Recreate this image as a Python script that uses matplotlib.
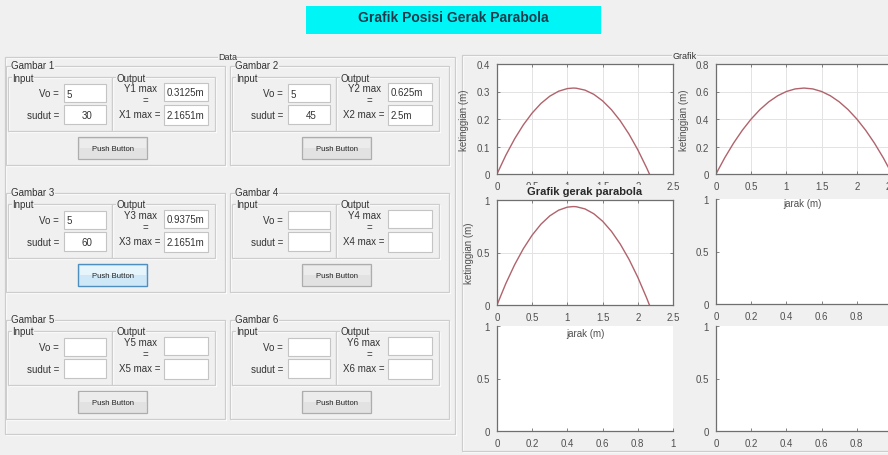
import matplotlib
matplotlib.use('Agg')
import matplotlib.pyplot as plt
from matplotlib.patches import Rectangle

plt.rcParams['font.family'] = ['Liberation Sans', 'DejaVu Sans']

# ---------------- data ----------------
title_text = "Grafik Posisi Gerak Parabola"
panel_names = ["Gambar 1", "Gambar 2", "Gambar 3", "Gambar 4", "Gambar 5", "Gambar 6"]
vo_values = ["5", "5", "5", "", "", ""]
sudut_values = ["30", "45", "60", "", "", ""]
ymax_values = ["0.3125m", "0.625m", "0.9375m", "", "", ""]
xmax_values = ["2.1651m", "2.5m", "2.1651m", "", "", ""]
button_text = "Push Button"

# trajectory (jarak, ketinggian)
x30 = [0, 0.125, 0.25, 0.375, 0.5, 0.625, 0.75, 0.875, 1.0, 1.0825, 1.125, 1.25,
       1.375, 1.5, 1.625, 1.75, 1.875, 2.0, 2.125, 2.1651]
y30 = [0, 0.068, 0.1277, 0.179, 0.222, 0.2567, 0.283, 0.301, 0.3107, 0.3125, 0.312,
       0.305, 0.2897, 0.266, 0.234, 0.1937, 0.145, 0.088, 0.0227, 0]
x45 = [0, 0.125, 0.25, 0.375, 0.5, 0.625, 0.75, 0.875, 1.0, 1.125, 1.25, 1.375,
       1.5, 1.625, 1.75, 1.875, 2.0, 2.125, 2.25, 2.375, 2.5]
y45 = [0, 0.1188, 0.225, 0.3188, 0.4, 0.4688, 0.525, 0.5688, 0.6, 0.6188, 0.625,
       0.6188, 0.6, 0.5688, 0.525, 0.4688, 0.4, 0.3188, 0.225, 0.1188, 0]
x60 = [0, 0.125, 0.25, 0.375, 0.5, 0.625, 0.75, 0.875, 1.0, 1.0825, 1.125, 1.25,
       1.375, 1.5, 1.625, 1.75, 1.875, 2.0, 2.125, 2.1651]
y60 = [0, 0.204, 0.383, 0.537, 0.666, 0.77, 0.849, 0.903, 0.9321, 0.9375, 0.9361,
       0.9151, 0.8691, 0.7981, 0.7021, 0.5811, 0.4351, 0.2641, 0.0681, 0]

ticks_25 = [0, 0.5, 1, 1.5, 2, 2.5]
ticks_25_labels = ["0", "0.5", "1", "1.5", "2", "2.5"]
ticks_1 = [0, 0.2, 0.4, 0.6, 0.8, 1]
ticks_1_labels = ["0", "0.2", "0.4", "0.6", "0.8", "1"]
yticks_04 = [0, 0.1, 0.2, 0.3, 0.4]
yticks_04_labels = ["0", "0.1", "0.2", "0.3", "0.4"]
yticks_08 = [0, 0.2, 0.4, 0.6, 0.8]
yticks_08_labels = ["0", "0.2", "0.4", "0.6", "0.8"]
yticks_1 = [0, 0.5, 1]
yticks_1_labels = ["0", "0.5", "1"]
xlabel_text = "jarak (m)"
ylabel_text = "ketinggian (m)"
plot_title = "Grafik gerak parabola"

# ---------------- figure ----------------
W, H = 888, 456
BG = '#f0f0f0'
fig = plt.figure(figsize=(W / 100, H / 100), dpi=100, facecolor=BG)

gui = fig.add_axes([0, 0, 1, 1])
gui.set_xlim(0, W)
gui.set_ylim(H, 0)
gui.axis('off')
gui.set_zorder(-10)

GUI_FS = 7
TXT = '#333333'


def panel(l, t, r, b):
    gui.add_patch(Rectangle((l + 1, t + 1), r - l, b - t, fill=False, ec='white', lw=0.9))
    gui.add_patch(Rectangle((l, t), r - l, b - t, fill=False, ec='#cdcdcd', lw=0.9))


def label(x, y, s, ha='left', fs=GUI_FS, **kw):
    gui.text(x, y, s, ha=ha, va='center', fontsize=fs, color=TXT,
             bbox=dict(fc=BG, ec='none', pad=0.3), **kw)


def edit(l, t, r, b, s='', align='left'):
    gui.add_patch(Rectangle((l, t), r - l, b - t, fc='white', ec='#c4c4c4', lw=0.8))
    if s:
        if align == 'left':
            gui.text(l + 2.5, (t + b) / 2 + 0.5, s, ha='left', va='center', fontsize=GUI_FS, color=TXT)
        else:
            gui.text((l + r) / 2 + 2, (t + b) / 2 + 0.5, s, ha='center', va='center', fontsize=GUI_FS, color=TXT)


def button(l, t, r, b, active=False):
    if active:
        gui.add_patch(Rectangle((l, t), r - l, b - t, fc='#cfe8f8', ec='#4f8fc0', lw=1.0))
        gui.add_patch(Rectangle((l + 1.5, t + 1.5), r - l - 3, (b - t) / 2 - 1.5, fc='#e6f4fc', ec='none'))
    else:
        gui.add_patch(Rectangle((l, t), r - l, b - t, fc='#e2e2e2', ec='#adadad', lw=0.9))
        gui.add_patch(Rectangle((l + 1.5, t + 1.5), r - l - 3, (b - t) / 2 - 1.5, fc='#ececec', ec='none'))
    gui.text((l + r) / 2, (t + b) / 2 + 0.5, button_text, ha='center', va='center', fontsize=5.5, color='#222222')


# title box
gui.add_patch(Rectangle((306, 7), 295, 28, fc='#00f6f6', ec='none'))
gui.text(453, 17.5, title_text, ha='center', va='center', fontsize=10, fontweight='bold', color='#1d3b4c')

# outer panels
panel(5, 58, 455, 435)
label(218, 57.5, "Data", fs=6.5)
panel(462, 56, 896, 452)
label(672, 56.5, "Grafik", fs=6.5)

# six input/output groups
for i in range(6):
    col, row = i % 2, i // 2
    dx = 224 * col
    dy = 127 * row
    panel(6 + dx, 67 + dy, 225 + dx, 166 + dy)
    label(11 + dx, 66 + dy, panel_names[i])
    panel(8 + dx, 78 + dy, 112 + dx, 132 + dy)
    panel(112 + dx, 78 + dy, 215 + dx, 132 + dy)
    label(12 + dx, 78.5 + dy, "Input")
    label(116 + dx, 78.5 + dy, "Output")
    gui.text(59 + dx, 94 + dy, "Vo =", ha='right', va='center', fontsize=GUI_FS, color=TXT)
    gui.text(59 + dx, 116 + dy, "sudut =", ha='right', va='center', fontsize=GUI_FS, color=TXT)
    edit(64 + dx, 85 + dy, 106 + dx, 103 + dy, vo_values[i], 'left')
    edit(64 + dx, 106 + dy, 106 + dx, 125 + dy, sudut_values[i], 'center')
    n = i + 1
    gui.text(140 + dx, 89 + dy, f"Y{n} max", ha='center', va='center', fontsize=GUI_FS, color=TXT)
    gui.text(145 + dx, 101 + dy, "=", ha='center', va='center', fontsize=GUI_FS, color=TXT)
    gui.text(140 + dx, 115 + dy, f"X{n} max =", ha='center', va='center', fontsize=GUI_FS, color=TXT)
    edit(164 + dx, 84 + dy, 208 + dx, 102 + dy, ymax_values[i], 'left')
    edit(164 + dx, 106 + dy, 208 + dx, 126 + dy, xmax_values[i], 'left')
    button(78 + dx, 138 + dy, 147 + dx, 160 + dy, active=(i == 2))

# ---------------- plot axes ----------------
AX_C = '#6f6f6f'
LBL_C = '#505050'
CURVE = '#b0636c'


def px_axes(l, t, r, b):
    return fig.add_axes([l / W, 1 - b / H, (r - l) / W, (b - t) / H])


def style(ax, xt, xtl, yt, ytl, grid=True, box=True):
    ax.set_facecolor('white')
    ax.set_xlim(xt[0], xt[-1])
    ax.set_ylim(yt[0], yt[-1])
    ax.set_xticks(xt)
    ax.set_xticklabels(xtl)
    ax.set_yticks(yt)
    ax.set_yticklabels(ytl)
    ax.tick_params(direction='in', length=2.5, width=0.6, colors=AX_C, labelcolor=LBL_C,
                   labelsize=7, pad=5, top=box, right=box)
    for s in ax.spines.values():
        s.set_color(AX_C)
        s.set_linewidth(0.9)
    if not box:
        ax.spines['top'].set_visible(False)
        ax.spines['right'].set_visible(False)
    if grid:
        ax.grid(True, color='#e3e3e3', lw=0.7)
        ax.set_axisbelow(True)


ax4 = px_axes(716, 200, 892, 305)
style(ax4, ticks_1, ticks_1_labels, yticks_1, yticks_1_labels, grid=False, box=False)
ax5 = px_axes(497, 327, 673, 432)
style(ax5, ticks_1, ticks_1_labels, yticks_1, yticks_1_labels, grid=False, box=False)
ax6 = px_axes(716, 327, 892, 432)
style(ax6, ticks_1, ticks_1_labels, yticks_1, yticks_1_labels, grid=False, box=False)

ax1 = px_axes(497, 65, 673, 175)
style(ax1, ticks_25, ticks_25_labels, yticks_04, yticks_04_labels)
ax1.plot(x30, y30, color=CURVE, lw=1.0)
ax1.set_ylabel(ylabel_text, fontsize=7, color=LBL_C)
ax1.yaxis.set_label_coords(-0.16, 0.5)
ax1.set_zorder(1)

ax2 = px_axes(716, 65, 892, 175)
style(ax2, ticks_25, ticks_25_labels, yticks_08, yticks_08_labels)
ax2.plot(x45, y45, color=CURVE, lw=1.0)
ax2.set_ylabel(ylabel_text, fontsize=7, color=LBL_C)
ax2.yaxis.set_label_coords(-0.153, 0.5)
ax2.set_xlabel(xlabel_text, fontsize=7, color=LBL_C)
ax2.xaxis.set_label_coords(0.49, -0.218)
ax2.set_zorder(2)

ax3 = px_axes(497, 201, 673, 306)
style(ax3, ticks_25, ticks_25_labels, yticks_1, yticks_1_labels)
ax3.plot(x60, y60, color=CURVE, lw=1.0)
ax3.set_ylabel(ylabel_text, fontsize=7, color=LBL_C)
ax3.yaxis.set_label_coords(-0.13, 0.5)
ax3.set_xlabel(xlabel_text, fontsize=7, color=LBL_C)
ax3.xaxis.set_label_coords(0.5, -0.22)
ax3.text(0.5, 1.085, plot_title, transform=ax3.transAxes, ha='center', va='center',
         fontsize=8, fontweight='bold', color='#2a2a2a',
         bbox=dict(fc=BG, ec='none', pad=0.8), clip_on=False)
ax3.set_zorder(3)

fig.savefig('out.png', dpi=100, facecolor=BG)
